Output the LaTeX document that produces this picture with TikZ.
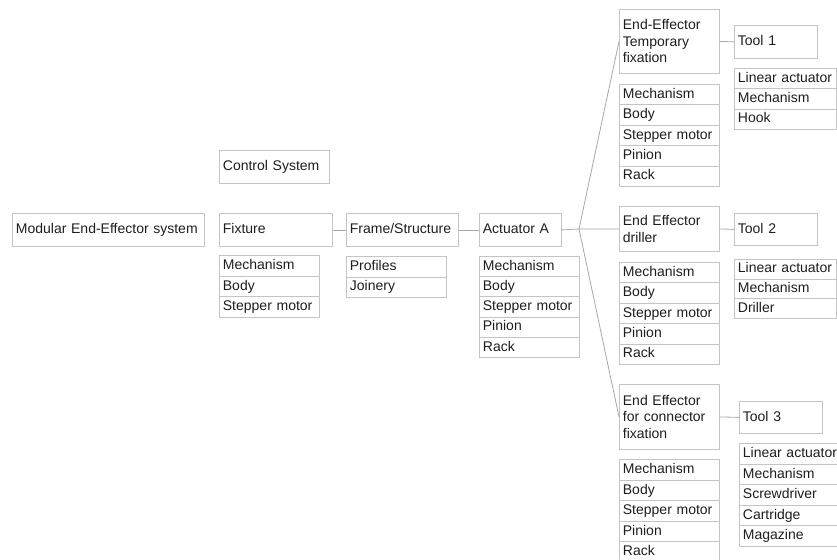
\documentclass[tikz,border=0pt]{standalone}
\usepackage{fontspec}
\setmainfont{Liberation Sans}
\definecolor{boxc}{HTML}{C4C4C4}
\definecolor{linec}{HTML}{A8A8A8}
\definecolor{txtc}{HTML}{1E1E1E}
\begin{document}
\begin{tikzpicture}[x=1pt,y=-1pt,
  bx/.style={draw=boxc, line width=0.8pt, inner xsep=3.5pt, inner ysep=0pt,
    anchor=north west, align=left, text=txtc,
    font=\fontsize{14}{16.5}\selectfont},
  one/.style={text height=10.5pt, text depth=3pt},
  conn/.style={draw=linec, line width=0.8pt}]
\useasboundingbox[fill=white] (0,0) rectangle (837,559);

% main chain
\node[bx, one, text width=185pt, minimum height=33pt] (mod) at (12,213) {Modular End-Effector system};
\node[bx, one, text width=103pt, minimum height=33pt] (ctl) at (219,150) {Control System};
\node[bx, one, text width=106pt, minimum height=33pt] (fix) at (219,213) {Fixture};
\node[bx, one, text width=105pt, minimum height=33pt] (frm) at (346,213) {Frame/Structure};
\node[bx, one, text width=75pt, minimum height=33pt] (act) at (479,213) {Actuator A};

% end effectors
\node[bx, text width=93pt, minimum height=64pt] (tmp) at (619,9) {End-Effector\\Temporary\\fixation};
\node[bx, text width=93pt, minimum height=45pt] (drl) at (619,206) {End Effector\\driller};
\node[bx, text width=93pt, minimum height=65pt] (cnf) at (619,384) {End Effector\\for connector\\fixation};

% tools
\node[bx, one, text width=76pt, minimum height=33pt] (t1) at (734,25) {Tool 1};
\node[bx, one, text width=76pt, minimum height=32pt] (t2) at (734,213) {Tool 2};
\node[bx, one, text width=76pt, minimum height=32pt] (t3) at (739,401) {Tool 3};

% lists
\foreach \t [count=\i from 0] in {Mechanism,Body,Stepper motor}
  \node[bx, one, text width=93pt, minimum height=20.7pt] (fx\i) at (219,{255+\i*20.7}) {\t};
\foreach \t [count=\i from 0] in {Profiles,Joinery}
  \node[bx, one, text width=93pt, minimum height=20.5pt] (fr\i) at (346,{256+\i*20.5}) {\t};
\foreach \t [count=\i from 0] in {Mechanism,Body,Stepper motor,Pinion,Rack}
  \node[bx, one, text width=93pt, minimum height=20.2pt] (ac\i) at (479,{256+\i*20.2}) {\t};
\foreach \t [count=\i from 0] in {Mechanism,Body,Stepper motor,Pinion,Rack}
  \node[bx, one, text width=93pt, minimum height=20.4pt] (tp\i) at (619,{84+\i*20.4}) {\t};
\foreach \t [count=\i from 0] in {Mechanism,Body,Stepper motor,Pinion,Rack}
  \node[bx, one, text width=93pt, minimum height=20.4pt] (dr\i) at (619,{262+\i*20.4}) {\t};
\foreach \t [count=\i from 0] in {Mechanism,Body,Stepper motor,Pinion,Rack}
  \node[bx, one, text width=93pt, minimum height=20.6pt] (cf\i) at (619,{459+\i*20.6}) {\t};
\foreach \t [count=\i from 0] in {Linear actuator,Mechanism,Hook}
  \node[bx, one, text width=95pt, minimum height=20.3pt] (ta\i) at (734,{68+\i*20.3}) {\t};
\foreach \t [count=\i from 0] in {Linear actuator,Mechanism,Driller}
  \node[bx, one, text width=95pt, minimum height=19.6pt] (tb\i) at (734,{259+\i*19.6}) {\t};
\foreach \t [count=\i from 0] in {Linear actuator,Mechanism,Screwdriver,Cartridge,Magazine}
  \node[bx, one, text width=95pt, minimum height=20.6pt] (tc\i) at (739,{443+\i*20.6}) {\t};

% connectors
\coordinate (br) at (579,229);
\draw[conn] (fix.east) -- (frm.west);
\draw[conn] (frm.east) -- (act.west);
\draw[conn] (act.east) -- (br);
\draw[conn] (br) -- (tmp.west);
\draw[conn] (br) -- (drl.west);
\draw[conn] (br) -- (cnf.west);
\draw[conn] (tmp.east) -- (t1.west);
\draw[conn] (drl.east) -- (t2.west);
\draw[conn] (cnf.east) -- (t3.west);
\end{tikzpicture}
\end{document}
